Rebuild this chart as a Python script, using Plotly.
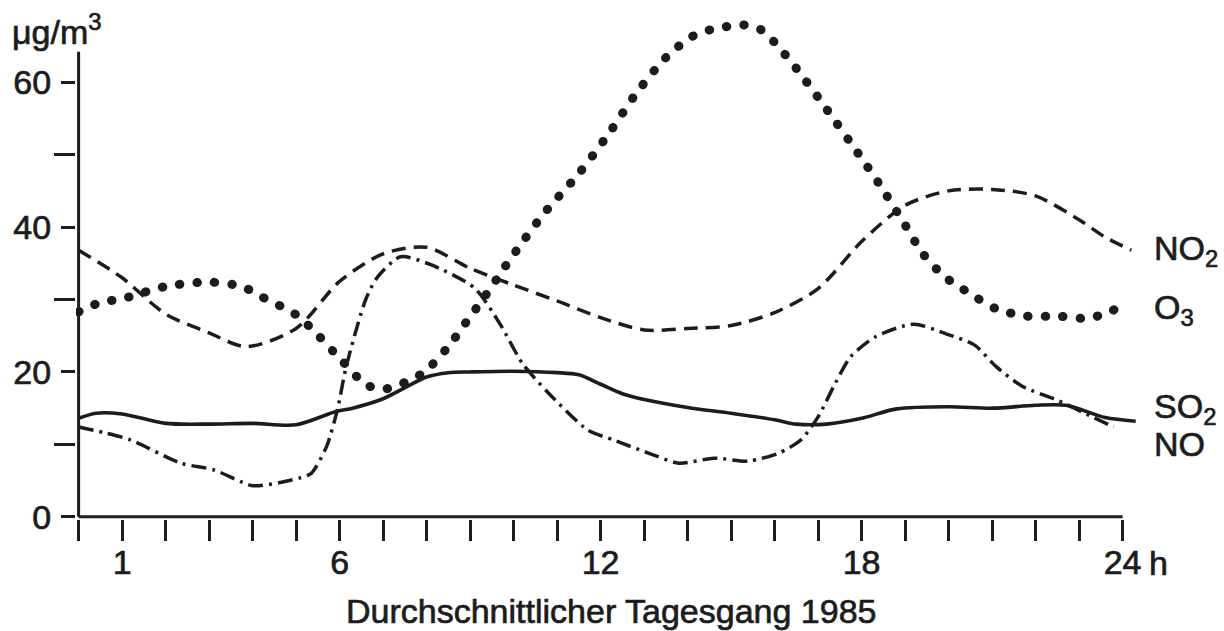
import plotly.graph_objects as go

# ---------------- data ----------------
hours_no2 = [0, 1, 2, 3, 3.85, 5, 6, 7, 8, 9, 10, 11, 12, 13, 14, 15, 16, 17, 18, 19, 20, 21, 22, 23, 23.6, 24.2]
no2 = [36.8, 33.0, 28.0, 25.4, 23.5, 26.0, 32.5, 36.3, 37.2, 34.3, 32.0, 29.8, 27.5, 25.8, 26.0, 26.4,
       28.2, 31.5, 38.0, 43.0, 45.0, 45.2, 44.3, 41.0, 38.6, 36.8]

hours_o3 = [0, 0.5, 1, 2, 3, 3.75, 4.2, 5, 5.5, 6, 6.6, 7, 7.9, 8.5, 8.9, 9.36, 9.8, 10.25, 10.7, 11.5,
            12.2, 12.8, 13.5, 14.1, 14.5, 15.3, 15.7, 16, 16.5, 17, 18, 18.4, 19, 19.4, 19.9, 20.5,
            21.1, 21.8, 22.5, 23.2, 23.7, 24]
o3 = [28.3, 29.6, 30.1, 31.8, 32.4, 31.8, 30.4, 27.9, 25.1, 21.9, 18.3, 17.6, 19.8, 23.5, 26.8, 30.6,
      34.5, 38.3, 41.9, 47.4, 53.0, 58.3, 63.4, 66.3, 67.2, 67.9, 67.2, 65.5, 61.9, 57.9, 49.5, 46.0,
      40.3, 36.4, 33.2, 30.8, 28.7, 27.7, 27.7, 27.4, 28.3, 29.2]

hours_so2 = [0, 0.4, 1, 2, 3, 4, 5, 5.9, 6.3, 7, 8, 8.5, 9, 10, 11, 11.5, 12, 12.5, 13, 14, 15, 16,
             16.5, 17.2, 18, 18.8, 20, 21, 22, 22.7, 23.6, 24.3]
so2 = [13.6, 14.3, 14.2, 12.9, 12.8, 12.9, 12.7, 14.5, 15.0, 16.3, 19.3, 19.9, 20.0, 20.1, 19.9, 19.6,
       18.3, 17.0, 16.2, 15.1, 14.3, 13.4, 12.8, 12.8, 13.6, 14.9, 15.2, 15.0, 15.4, 15.4, 13.7, 13.2]

hours_no = [0, 0.6, 1.2, 2.35, 3.1, 4.0, 4.6, 5.1, 5.35, 5.7, 5.95, 6.15, 6.6, 6.87, 7.4, 8.1, 9.1,
            9.7, 10.2, 10.8, 11.7, 12.3, 13.1, 13.8, 14.6, 15.4, 16.1, 16.6, 17.0, 17.4, 17.75, 18.3,
            19.2, 19.97, 20.6, 21.1, 21.7, 22.5, 23.3, 23.8]
no = [12.4, 11.6, 10.6, 7.4, 6.5, 4.3, 4.7, 5.4, 6.0, 9.7, 14.8, 20.7, 30.0, 33.1, 35.9, 34.8, 31.6,
      26.5, 21.2, 17.1, 12.0, 10.6, 8.8, 7.4, 8.1, 7.7, 8.8, 10.6, 13.8, 18.5, 22.1, 24.8,
      26.6, 25.2, 23.7, 20.7, 18.0, 16.1, 13.8, 12.4]

x_labeled = [1, 6, 12, 18, 24]
x_ticklabels = ["1", "6", "12", "18", "24"]
x_unlabeled = [h for h in range(0, 25) if h not in x_labeled]
y_major = [0, 20, 40, 60]
y_ticklabels = ["0", "20", "40", "60"]
y_minor = [10, 30, 50]

series_labels = ["NO<sub>2</sub>", "O<sub>3</sub>", "SO<sub>2</sub>", "NO"]
series_label_y = [36.8, 28.6, 14.9, 10.0]
unit_label = "μg/m<sup>3</sup>"
x_title = "Durchschnittlicher Tagesgang 1985"
hour_unit = "h"

# ---------------- figure ----------------
INK = "#1c1c1c"
FONT = "Liberation Sans, Arial, Helvetica, sans-serif"
FS = 34

fig = go.Figure()
fig.add_trace(go.Scatter(x=hours_no2, y=no2, mode="lines", name="NO2",
                         line=dict(color=INK, width=3.5, dash="14px,8px", shape="spline", smoothing=0.8)))
fig.add_trace(go.Scatter(x=hours_o3, y=o3, mode="lines", name="O3", uid="o3",
                         line=dict(color=INK, width=9, dash="0.5px,17px", shape="spline", smoothing=0.8)))
fig.add_trace(go.Scatter(x=hours_so2, y=so2, mode="lines", name="SO2",
                         line=dict(color=INK, width=3.6, shape="spline", smoothing=0.8)))
fig.add_trace(go.Scatter(x=hours_no, y=no, mode="lines", name="NO",
                         line=dict(color=INK, width=3.5, dash="15px,6px,3px,6px", shape="spline", smoothing=0.7)))

# axis lines
fig.add_shape(type="line", xref="x", yref="y", x0=0, x1=24, y0=0, y1=0, line=dict(color=INK, width=3))
fig.add_shape(type="line", xref="x", yref="y", x0=0, x1=0, y0=0, y1=64.2, line=dict(color=INK, width=3))

fig.update_layout(
    width=1224, height=631,
    margin=dict(l=76.4, r=83.6, t=16.8, b=111.8, autoexpand=False),
    paper_bgcolor="white", plot_bgcolor="white", showlegend=False,
    font=dict(family=FONT, color=INK, size=FS),
)
fig.update_xaxes(
    range=[-0.06, 24.4], tickmode="array", tickvals=x_labeled, ticktext=x_ticklabels,
    ticks="outside", ticklen=21, tickwidth=2.5, tickcolor=INK,
    minor=dict(tickmode="array", tickvals=x_unlabeled, ticks="outside", ticklen=21, tickwidth=2.5, tickcolor=INK),
    showline=False, showgrid=False, zeroline=False, automargin=False,
    tickfont=dict(family=FONT, size=FS, color=INK), ticklabelstandoff=-8,
)
fig.update_yaxes(
    range=[-0.3, 69], tickmode="array", tickvals=y_major, ticktext=y_ticklabels,
    ticks="outside", ticklen=14, tickwidth=2.5, tickcolor=INK,
    minor=dict(tickmode="array", tickvals=y_minor, ticks="outside", ticklen=21, tickwidth=2.5, tickcolor=INK),
    showline=False, showgrid=False, zeroline=False, automargin=False,
    tickfont=dict(family=FONT, size=FS, color=INK), ticklabelstandoff=3,
)

for txt, yv in zip(series_labels, series_label_y):
    fig.add_annotation(text=txt, xref="paper", x=1, xshift=11.6, xanchor="left",
                       yref="y", y=yv, yanchor="middle", showarrow=False,
                       font=dict(family=FONT, size=FS, color=INK))

fig.add_annotation(text=unit_label, xref="paper", x=0, xshift=-66, xanchor="left",
                   yref="paper", y=1, yshift=-12, yanchor="middle", showarrow=False,
                   font=dict(family=FONT, size=FS, color=INK))
fig.add_annotation(text=x_title, xref="paper", x=0.5034, xanchor="center",
                   yref="paper", y=0, yshift=-92, yanchor="middle", showarrow=False,
                   font=dict(family=FONT, size=FS, color=INK))
fig.add_annotation(text=hour_unit, xref="x", x=24, xshift=36, xanchor="center",
                   yref="paper", y=0, yshift=-44, yanchor="middle", showarrow=False,
                   font=dict(family=FONT, size=FS, color=INK))

post = ("document.body.style.margin='0';document.body.style.padding='0';"
        "var s=document.createElement('style');"
        "s.textContent='body{margin:0 !important;}"
        ".traceo3 .js-line{stroke-linecap:round !important;}"
        "svg text{stroke:#1c1c1c;stroke-width:0.7px;}';"
        "document.head.appendChild(s);")
fig.write_html("out.html", post_script=post, config={"displayModeBar": False})
